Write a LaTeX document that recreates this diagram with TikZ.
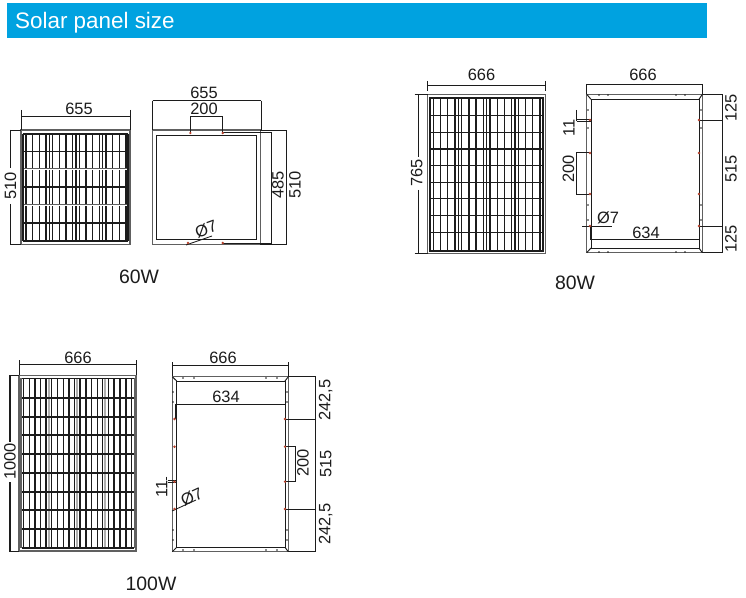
\documentclass[tikz,border=0pt]{standalone}
\usepackage{fontspec}
\setmainfont{Liberation Sans}
\definecolor{barblue}{HTML}{00A2E0}
\definecolor{hole}{HTML}{B5402A}
\definecolor{ink}{HTML}{1C1C1C}
\tikzset{
  dimtext/.style={font=\fontsize{16.5}{16.5}\selectfont,text=ink,inner sep=0pt},
  dimrot/.style={dimtext,rotate=90},
  captiontext/.style={font=\fontsize{19.5}{19.5}\selectfont,text=ink,inner sep=0pt},
  dimline/.style={draw=ink,line width=0.85bp},
  frameline/.style={draw=ink,line width=0.95bp},
  frameouter/.style={draw=ink!70,line width=1.4bp},
  gridline/.style={draw=ink,line width=1.1bp},
  gridbold/.style={draw=ink,line width=1.6bp},
  holedot/.style={fill=hole,draw=none},
  pindot/.style={fill=ink,draw=none}
}
\newcommand{\holes}[1]{\foreach \hx/\hy in {#1}{\fill[holedot] (\hx,\hy) circle (1.3);}}
\newcommand{\pins}[1]{\foreach \hx/\hy in {#1}{\fill[pindot] (\hx,\hy) circle (0.9);}}
\begin{document}
\begin{tikzpicture}[x=1bp,y=-1bp]
\useasboundingbox (0,0) rectangle (746,598);
\fill[white] (0,0) rectangle (746,598);
% title
\fill[barblue] (7,3) rectangle (707,38);
\node[anchor=base west,font=\fontsize{22.5}{22.5}\selectfont,text=white,inner sep=0pt] (title) at (15,29) {Solar panel size};

% ===== 60W front
\foreach \x in {26,32.7,39.3,46,49.3,52.7,59.3,66,72.7,76,79.3,86,92.7,99.3,102.7,106,112.7,119.3,126}{\draw[gridline] (\x,134) -- (\x,241);}
\foreach \y in {151.7,187.3,222.7}{\draw[gridbold] (23,\y) -- (128,\y);}
\foreach \y in {169.3,205}{\draw[draw=ink!70,line width=2.4bp] (23,\y) -- (128,\y);\draw[white,line width=0.8bp] (23,\y) -- (128,\y);}
\draw[gridline] (23,134) -- (23,241) (128,134) -- (128,241);
\draw[gridbold] (23,134) -- (128,134) (23,241) -- (128,241);
\draw[frameouter] (21,130) rectangle (130,244.5);
\draw[dimline] (21,116) -- (130,116) (21,110) -- (21,130) (130,110) -- (130,130);
\node[dimtext] (a655) at (79,108.5) {655};
\draw[dimline] (10,130) -- (21,130) (10,244.5) -- (21,244.5) (10,130) -- (10,168) (10,204) -- (10,244.5);
\node[dimrot] (a510) at (10.5,186) {510};

% ===== 60W back
\draw[frameouter] (152.7,130) rectangle (260.7,244.5);
\draw[frameline] (156.7,135) rectangle (256.7,239.5);
\draw[dimline] (152.7,100.7) -- (261,100.7) (152.7,100.7) -- (152.7,130) (261,100.7) -- (261,130);
\node[dimtext] (b655) at (204,93) {655};
\draw[dimline] (190.3,133) -- (190.3,116) -- (222.7,116) -- (222.7,133);
\node[dimtext] (b200) at (204,108.5) {200};
\draw[dimline] (222.7,132.5) -- (271,132.5) -- (271,243) -- (222.7,243);
\draw[dimline] (260,130) -- (286,130) -- (286,244.5) -- (260,244.5);
\node[dimrot] (b485) at (278,185) {485};
\node[dimrot] (b510) at (295,185) {510};
\node[dimtext,rotate=20] (b7) at (206,229) {Ø7};
\draw[dimline] (186,245) -- (212,236);
\holes{190.3/133,222.7/133,222.7/243,188/243}

% ===== 80W front
\foreach \x in {433.3,440.7,447.7,455,458.3,461.7,469,476,483.3,486.7,490,497.3,504.3,511.7,515,518.3,525.7,532.7,540}{\draw[gridline] (\x,98) -- (\x,250.7);}
\foreach \y in {115.7,132.3,165.7,182.3,215.7,232.3}{\draw[gridline] (430,\y) -- (543,\y);}
\foreach \y in {149,198.7}{\draw[gridbold] (430,\y) -- (543,\y);}
\draw[gridbold] (430,98) rectangle (543,250.7);
\draw[frameouter] (427.7,94.3) rectangle (545.7,253.3);
\draw[dimline] (427.7,85) -- (545.7,85) (427.7,81) -- (427.7,91) (545.7,81) -- (545.7,91);
\node[dimtext] (c666) at (481.5,75) {666};
\draw[dimline] (414.5,94.3) -- (427.7,94.3) (414.5,253.3) -- (427.7,253.3) (418.3,94.3) -- (418.3,157) (418.3,190) -- (418.3,253.3);
\node[dimrot] (c765) at (416.7,173) {765};

% ===== 80W back
\draw[frameouter] (586.7,94.3) rectangle (702.3,252.7);
\draw[frameline] (591,99.3) rectangle (699,248);
\draw[frameline] (586.7,94.3) -- (591,99.3) (702.3,94.3) -- (699,99.3) (586.7,252.7) -- (591,248) (702.3,252.7) -- (699,248);
\draw[dimline] (586.7,84) -- (702.3,84) (586.7,84) -- (586.7,94) (702.3,84) -- (702.3,94);
\node[dimtext] (d666) at (643,75) {666};
\draw[dimline] (702,94.3) -- (722.3,94.3) -- (722.3,252.7) -- (702,252.7);
\draw[dimline] (699,120) -- (722.3,120) (699,226) -- (722.3,226);
\node[dimrot] (d125a) at (731,108) {125};
\node[dimrot] (d515) at (731,169) {515};
\node[dimrot] (d125b) at (731,239) {125};
\draw[dimline] (576.7,110) -- (576.7,121) (576.7,119) -- (591,119) (576.7,121) -- (591,121);
\node[dimrot] (d11) at (569,128) {11};
\draw[dimline] (589,152.7) -- (576.7,152.7) -- (576.7,194.3) -- (589,194.3);
\node[dimrot] (d200) at (568.5,169) {200};
\node[dimtext] (d7) at (608,218) {Ø7};
\draw[dimline] (582,226) -- (612,226);
\draw[dimline] (590.5,226) -- (590.5,239.3) -- (699,239.3) -- (699,226);
\node[dimtext,fill=white,inner sep=0.5pt] (d634) at (646,233) {634};
\holes{590/120,699/120,590/153,699/153,590/194,699/194,590/226,699/226}
\pins{599/95,608/95,676/95,685/95,599/252,608/252,676/252,685/252,701/110,701/128,701/205,701/220,588/110,588/128,588/205,588/220}

% ===== 100W front
\foreach \x in {23.3,29.3,35,40.7,46,51.7,57.3,63.3,69,74.7,80,86,91.7,97.3,102.7,108.3,114,120,126,131.7}{\draw[gridline] (\x,378.3) -- (\x,547.7);}
\foreach \x in {49.3,77.3,105.3}{\draw[draw=ink!35,line width=2.2bp] (\x,378.3) -- (\x,547.7);}
\foreach \y in {397.7,416.7,435,453.7,473,491.7,510,529}{\draw[gridbold] (22,\y) -- (134.3,\y);}
\draw[draw=ink!70,line width=2bp] (21,378.3) -- (21,547.7) (134.5,378.3) -- (134.5,547.7);
\draw[gridbold] (22,378.3) -- (134.3,378.3) (22,547.7) -- (134.3,547.7);
\draw[frameouter] (19,375.7) rectangle (136,551);
\draw[dimline] (19,364.3) -- (136,364.3) (19,360) -- (19,375) (136,360) -- (136,375);
\node[dimtext] (e666) at (78,358) {666};
\draw[dimline] (9,375.7) -- (19,375.7) (9,551) -- (19,551);
\draw[draw=ink,line width=1.1bp] (10,375.7) -- (10,442) (10,482) -- (10,551);
\node[dimrot] (e1000) at (10,461.7) {1000};

% ===== 100W back
\draw[frameouter] (172.3,376.7) rectangle (288.3,551.7);
\draw[frameline] (176.7,381) rectangle (285,547.3);
\draw[frameline] (172.3,376.7) -- (176.7,381) (288.3,376.7) -- (285,381) (172.3,551.7) -- (176.7,547.3) (288.3,551.7) -- (285,547.3);
\draw[dimline] (172.3,365) -- (288.3,365) (172.3,362) -- (172.3,376) (288.3,362) -- (288.3,376);
\node[dimtext] (f666) at (223,358) {666};
\draw[dimline] (175,419) -- (175,404) -- (285,404) -- (285,419);
\node[dimtext] (f634) at (226,397) {634};
\draw[dimline] (288,376.7) -- (315.7,376.7) -- (315.7,551.7) -- (288,551.7);
\draw[dimline] (285,419) -- (315.7,419) (285,509) -- (315.7,509);
\node[dimrot] (f242a) at (325.7,400) {242,5};
\node[dimrot] (f515) at (325.7,464) {515};
\node[dimrot] (f242b) at (325.7,524) {242,5};
\draw[dimline] (285,446.7) -- (295.7,446.7) -- (295.7,481.7) -- (285,481.7);
\node[dimrot] (f200) at (303,463) {200};
\draw[dimline] (156,480.7) -- (176,480.7) (156,482.7) -- (176,482.7) (166,476.7) -- (166,495);
\node[dimrot,fill=white,inner sep=0.3pt] (f11) at (161.7,488.5) {11};
\node[dimtext,rotate=25] (f7) at (191.7,496.7) {Ø7};
\draw[dimline] (172,511) -- (196,500);
\holes{174.5/419,174.5/446.7,174.5/481.7,174.5/509,285/419,285/446.7,285/481.7,285/509}
\pins{183/378,194/378,266/378,277/378,183/550,194/550,266/550,277/550,173/392,173/402,173/530,173/540,287/392,287/402,287/530,287/540}

% captions
\node[captiontext] (cap60) at (139,277) {60W};
\node[captiontext] (cap80) at (575,283) {80W};
\node[captiontext] (cap100) at (151,584) {100W};
\end{tikzpicture}
\end{document}
